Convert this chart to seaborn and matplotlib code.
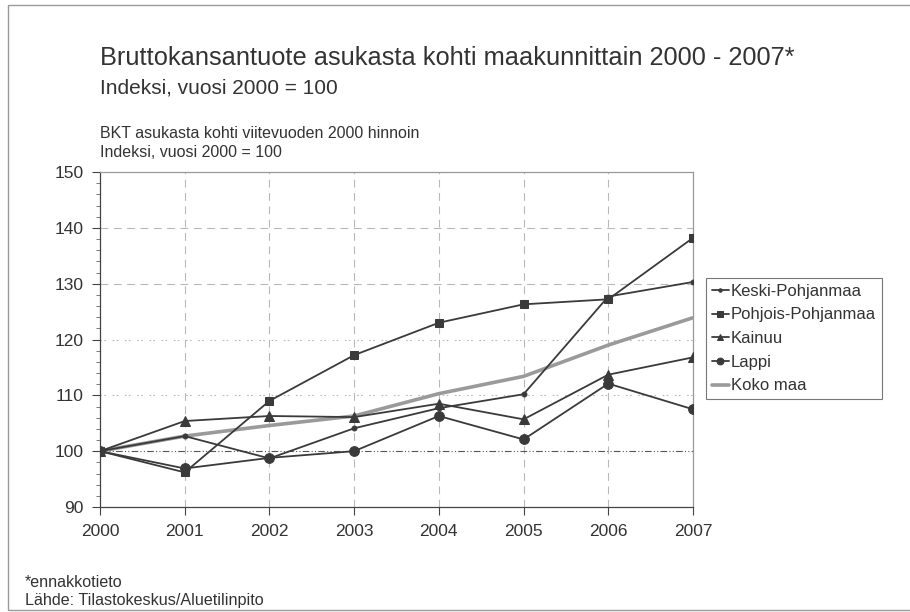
import matplotlib
matplotlib.use("Agg")
import matplotlib.pyplot as plt
import seaborn as sns
import pandas as pd
from matplotlib.patches import Rectangle
from matplotlib.ticker import MultipleLocator

years = [2000, 2001, 2002, 2003, 2004, 2005, 2006, 2007]
keski_pohjanmaa = [100, 102.7, 98.7, 104.1, 107.7, 110.2, 127.7, 130.3]
pohjois_pohjanmaa = [100, 96.2, 109.0, 117.2, 123.0, 126.3, 127.2, 138.2]
kainuu = [100, 105.4, 106.3, 106.1, 108.5, 105.7, 113.7, 116.8]
lappi = [100, 96.9, 98.8, 100.0, 106.3, 102.1, 112.1, 107.5]
koko_maa = [100, 102.7, 104.6, 106.3, 110.3, 113.4, 119.0, 123.9]

series_names = ["Keski-Pohjanmaa", "Pohjois-Pohjanmaa", "Kainuu", "Lappi", "Koko maa"]
series_values = [keski_pohjanmaa, pohjois_pohjanmaa, kainuu, lappi, koko_maa]

title = "Bruttokansantuote asukasta kohti maakunnittain 2000 - 2007*"
subtitle = "Indeksi, vuosi 2000 = 100"
axis_note1 = "BKT asukasta kohti viitevuoden 2000 hinnoin"
axis_note2 = "Indeksi, vuosi 2000 = 100"
foot1 = "*ennakkotieto"
foot2 = "Lähde: Tilastokeskus/Aluetilinpito"

sns.set_theme(style="white")
plt.rcParams['font.family'] = ['Liberation Sans', 'DejaVu Sans']

df = pd.DataFrame({
    "year": years * len(series_names),
    "value": [v for s in series_values for v in s],
    "series": [n for n in series_names for _ in years],
})

fig = plt.figure(figsize=(9.10, 6.12), dpi=100)
ax = fig.add_axes([100/910, 1-507/612, (693-100)/910, (507-172)/612])

styles = {
    "Keski-Pohjanmaa": dict(color="#3a3a3a", marker="o", markersize=3.5, linewidth=1.3),
    "Pohjois-Pohjanmaa": dict(color="#3a3a3a", marker="s", markersize=6, linewidth=1.3),
    "Kainuu": dict(color="#3a3a3a", marker="^", markersize=7, linewidth=1.3),
    "Lappi": dict(color="#3a3a3a", marker="o", markersize=7, linewidth=1.3),
    "Koko maa": dict(color="#9a9a9a", marker=None, markersize=0, linewidth=2.6),
}

# grid lines
for yr in years[1:-1]:
    ax.axvline(yr, color="#b8b8b8", lw=0.8, dashes=(7, 5), zorder=0)
for yv in (140, 130):
    ax.axhline(yv, color="#b8b8b8", lw=0.8, dashes=(7, 5), zorder=0)
for yv in (120, 110):
    ax.axhline(yv, color="#b8b8b8", lw=0.8, dashes=(1.5, 2, 1.5, 6), zorder=0)
ax.axhline(100, color="#555555", lw=0.8, dashes=(6, 2, 1, 2, 1, 2), zorder=0)

order = ["Koko maa", "Keski-Pohjanmaa", "Pohjois-Pohjanmaa", "Kainuu", "Lappi"]
for name in order:
    st = styles[name]
    sub = df[df.series == name]
    sns.lineplot(data=sub, x="year", y="value", ax=ax, color=st["color"],
                 marker=st["marker"], markersize=st["markersize"],
                 linewidth=st["linewidth"], markeredgecolor=st["color"],
                 label=name, zorder=3 if name != "Koko maa" else 2)

ax.set_xlim(2000, 2007)
ax.set_ylim(90, 150)
ax.set_xticks(years)
ax.set_xticklabels([str(y) for y in years])
ax.yaxis.set_major_locator(MultipleLocator(10))
ax.yaxis.set_minor_locator(MultipleLocator(2))
ax.tick_params(axis="both", which="major", direction="out", length=6, width=0.8,
               color="#444444", labelsize=12.5, labelcolor="#333333", left=True, bottom=True)
ax.tick_params(axis="x", which="major", pad=6)
ax.tick_params(axis="y", which="major", pad=6)
ax.tick_params(axis="y", which="minor", direction="out", length=3, width=0.6,
               color="#666666", left=True)
ax.set_xlabel("")
ax.set_ylabel("")
for side in ("left", "bottom"):
    ax.spines[side].set_color("#444444")
    ax.spines[side].set_linewidth(0.9)
for side in ("top", "right"):
    ax.spines[side].set_color("#999999")
    ax.spines[side].set_linewidth(0.9)

handles, labels = ax.get_legend_handles_labels()
hmap = dict(zip(labels, handles))
leg = ax.legend([hmap[n] for n in series_names], series_names,
                loc="upper left", bbox_to_anchor=(706/910, 1-278/612),
                bbox_transform=fig.transFigure, frameon=True, fancybox=False,
                edgecolor="#555555", fontsize=12, handlelength=1.0,
                handletextpad=0.15, borderpad=0.35, labelspacing=0.52,
                borderaxespad=0, markerscale=0.7)
leg.get_frame().set_linewidth(0.8)
for t in leg.get_texts():
    t.set_color("#333333")

fig.text(100/910, 1-65/612, title, fontsize=18.3, color="#333333", va="baseline")
fig.text(100/910, 1-93/612, subtitle, fontsize=15, color="#333333", va="baseline")
fig.text(100/910, 1-138/612, axis_note1, fontsize=11.5, color="#333333", va="baseline")
fig.text(100/910, 1-157/612, axis_note2, fontsize=11.5, color="#333333", va="baseline")
fig.text(25/910, 1-587/612, foot1, fontsize=11.6, color="#333333", va="baseline")
fig.text(25/910, 1-605/612, foot2, fontsize=11.6, color="#333333", va="baseline")

fig.patches.append(Rectangle((8/910, 2/612), 1.1, 1 - 7/612,
                             transform=fig.transFigure, fill=False,
                             edgecolor="#9a9a9a", linewidth=1.0))

fig.savefig("out.png", dpi=100, facecolor="white")
